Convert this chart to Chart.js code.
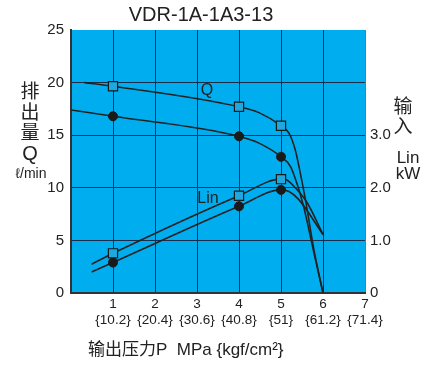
<!DOCTYPE html>
<html>
<head>
<meta charset="utf-8">
<script src="https://cdn.jsdelivr.net/npm/chart.js@4"></script>
<style>
  html, body { margin: 0; padding: 0; background: #fff; }
  #wrap { width: 432px; height: 367px; }
</style>
</head>
<body>
<div id="wrap"><canvas id="pumpChart" width="432" height="367"></canvas></div>
<script>
// pressure (MPa) and values
const qSqP = [0.32, 1, 4, 4.5, 5, 5.19, 5.34, 5.46, 5.58, 5.78, 6];
const qSq  = [20.0, 19.65, 17.7, 17.1, 15.9, 15.2, 13.6, 11.4, 8.9, 4.2, 0];

const qDotP = [0, 1, 4, 4.5, 5, 5.23, 5.38, 5.54, 5.78, 6];
const qDot  = [17.4, 16.8, 14.9, 14.2, 12.95, 12.0, 10.4, 8.2, 3.9, 0];

const linSqP = [0.49, 1, 4, 5, 5.1, 5.34, 5.62, 6];
const linSq  = [2.74, 3.77, 9.25, 10.82, 10.8, 10.0, 8.6, 5.56];   // left-scale units (kW x 5)

const linDotP = [0.49, 1, 4, 5, 5.19, 5.42, 6];
const linDot  = [2.0, 2.9, 8.24, 9.8, 9.65, 8.9, 5.56];

const markerP = [1, 4, 5];
const kgfLabels = ['{10.2}', '{20.4}', '{30.6}', '{40.8}', '{51}', '{61.2}', '{71.4}'];
const kwTicks = [0, 1, 2, 3];

const FONT = '"Liberation Sans", Arial, sans-serif';
const CJK = '"Noto Sans CJK SC", sans-serif';
const BLUE = '#00aeef';
const GRID = '#1c2d4c';

function pts(xs, ys) {
    return xs.map((x, i) => ({ x: x, y: ys[i] }));
}

function markR(r) {
    return ctx => (ctx.raw && markerP.includes(ctx.raw.x)) ? r : 0;
}

function curve(data, square) {
    return {
        data: data,
        borderColor: '#222',
        borderWidth: 1.6,
        cubicInterpolationMode: 'monotone',
        pointStyle: square ? 'rect' : 'circle',
        pointRadius: markR(square ? 6.5 : 4.5),
        pointBackgroundColor: square ? '#1fa8dd' : '#1a1a1a',
        pointBorderColor: '#1a1a1a',
        pointBorderWidth: square ? 1.2 : 1,
        pointHoverRadius: 0,
        fill: false
    };
}

const decor = {
    id: 'decor',
    beforeDraw(chart) {
        const { ctx, chartArea: a } = chart;
        ctx.save();
        ctx.fillStyle = BLUE;
        ctx.fillRect(a.left, a.top, a.right - a.left, a.bottom - a.top);
        ctx.restore();
    },
    afterDraw(chart) {
        const ctx = chart.ctx;
        ctx.save();
        ctx.fillStyle = '#222';
        ctx.textAlign = 'center';
        ctx.textBaseline = 'middle';

        ctx.font = '20px ' + FONT;
        ctx.fillText('VDR-1A-1A3-13', 201, 15);

        // left axis title
        ctx.font = '19px ' + CJK;
        ctx.fillText('排', 30, 91);
        ctx.fillText('出', 30, 112);
        ctx.fillText('量', 30, 132);
        ctx.font = '20px ' + FONT;
        ctx.fillText('Q', 30, 154);
        ctx.font = '14px ' + FONT;
        ctx.fillText('ℓ/min', 31, 174);

        // right axis title
        ctx.font = '19px ' + CJK;
        ctx.fillText('输', 403, 106);
        ctx.fillText('入', 403, 126);
        ctx.font = '17px ' + FONT;
        ctx.fillText('Lin', 408, 158);
        ctx.fillText('kW', 408, 174);

        // curve labels
        ctx.font = '16px ' + FONT;
        ctx.fillText('Q', 207, 91);
        ctx.fillText('Lin', 208, 199);

        // x axis title
        ctx.font = '17px ' + CJK;
        ctx.textAlign = 'left';
        ctx.fillText('输出压力', 88, 349);
        let w = ctx.measureText('输出压力').width;
        ctx.font = '17px ' + FONT;
        ctx.fillText('P  MPa {kgf/cm²}', 88 + w, 350);
        ctx.restore();
    }
};

new Chart(document.getElementById('pumpChart'), {
    type: 'line',
    data: {
        datasets: [
            curve(pts(qSqP, qSq), true),
            curve(pts(qDotP, qDot), false),
            curve(pts(linSqP, linSq), true),
            curve(pts(linDotP, linDot), false)
        ]
    },
    options: {
        responsive: false,
        animation: false,
        layout: { padding: { top: 30, left: 0, right: 0, bottom: 0 } },
        plugins: {
            legend: { display: false },
            tooltip: { enabled: false }
        },
        scales: {
            x: {
                type: 'linear',
                min: 0,
                max: 7,
                afterFit: s => { s.height = 74; },
                ticks: {
                    stepSize: 1,
                    autoSkip: false,
                    maxRotation: 0,
                    minRotation: 0,
                    color: '#222',
                    padding: 3,
                    font: { family: FONT, size: 13.5 },
                    callback: v => v === 0 ? '' : [String(v), kgfLabels[v - 1]]
                },
                grid: {
                    drawTicks: false,
                    color: ctx => ctx.tick && ctx.tick.value === 7 ? '#5d7b98' : GRID,
                    lineWidth: 1
                },
                border: { color: '#333', width: 2 }
            },
            y: {
                position: 'left',
                min: 0,
                max: 25,
                afterFit: s => { s.width = 71; },
                ticks: {
                    stepSize: 5,
                    color: '#222',
                    padding: 7,
                    font: { family: FONT, size: 15 }
                },
                grid: {
                    drawTicks: false,
                    color: ctx => ctx.tick && ctx.tick.value === 25 ? 'rgba(0,0,0,0)' : GRID,
                    lineWidth: 1
                },
                border: { color: '#333', width: 2 }
            },
            y2: {
                position: 'right',
                min: 0,
                max: 5,
                afterFit: s => { s.width = 67; },
                ticks: {
                    stepSize: 1,
                    color: '#222',
                    padding: 5,
                    font: { family: FONT, size: 15 },
                    callback: v => kwTicks.includes(v) ? (v === 0 ? '0' : v.toFixed(1)) : ''
                },
                grid: { display: false, drawTicks: false },
                border: { display: false }
            }
        }
    },
    plugins: [decor]
});
</script>
</body>
</html>
